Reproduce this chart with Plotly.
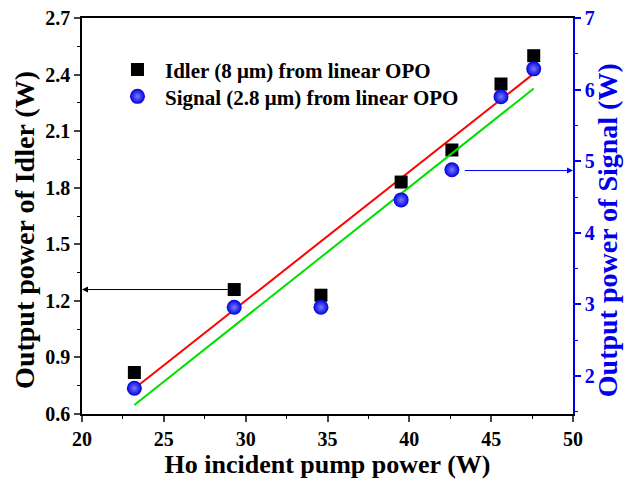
import numpy as np
import plotly.graph_objects as go

pump = [23.2, 29.3, 34.6, 39.5, 42.6, 45.6, 47.6]
idler = [0.82, 1.26, 1.23, 1.83, 2.00, 2.35, 2.50]
signal = [1.83, 2.96, 2.96, 4.46, 4.88, 5.90, 6.29]

FONT = "Liberation Serif"

ki, bi = np.polyfit(pump, idler, 1)
ks, bs = np.polyfit(pump, signal, 1)
xf = np.array([min(pump), max(pump)])

fig = go.Figure()
fig.add_trace(go.Scatter(x=xf, y=ki * xf + bi, mode="lines", line=dict(color="#ff0000", width=2),
                         showlegend=False, hoverinfo="skip"))
fig.add_trace(go.Scatter(x=xf, y=ks * xf + bs, mode="lines", line=dict(color="#00e000", width=2),
                         showlegend=False, hoverinfo="skip", yaxis="y2"))
fig.add_trace(go.Scatter(x=pump, y=idler, mode="markers", name="Idler (8 \u03bcm) from linear OPO",
                         legend="legend",
                         marker=dict(symbol="square", size=13, color="black")))
fig.add_trace(go.Scatter(x=pump, y=signal, mode="markers", name="Signal (2.8 \u03bcm) from linear OPO",
                         yaxis="y2", legend="legend2",
                         marker=dict(symbol="circle", size=15, color="#0000dd",
                                     gradient=dict(type="radial", color="#7a7aff"),
                                     line=dict(width=0))))

fig.add_annotation(x=20, y=1.26, ax=29.0, ay=1.26, xref="x", yref="y", axref="x", ayref="y",
                   text="", showarrow=True, arrowhead=2, arrowsize=1.2, arrowwidth=1, arrowcolor="black")
fig.add_annotation(x=50, y=4.87, ax=43.3, ay=4.87, xref="x", yref="y2", axref="x", ayref="y2",
                   text="", showarrow=True, arrowhead=2, arrowsize=1.2, arrowwidth=1, arrowcolor="#0000ee")

# y-axis titles as rotated annotations (placed slightly below plot centre, as in the reference)
fig.add_annotation(text="Output power of Idler (W)", xref="paper", yref="paper",
                   x=-0.116, y=0.465, xanchor="center", yanchor="middle", textangle=-90, showarrow=False,
                   font=dict(family=FONT, size=28, color="black", weight="bold"))
fig.add_annotation(text="Output power of Signal (W)", xref="paper", yref="paper",
                   x=1.072, y=0.465, xanchor="center", yanchor="middle", textangle=-90, showarrow=False,
                   font=dict(family=FONT, size=28, color="#0000ee", weight="bold"))

legfont = dict(family=FONT, size=21, color="black", weight="bold")
fig.update_layout(
    width=626, height=480,
    margin=dict(l=82, r=53, t=18, b=66, autoexpand=False),
    paper_bgcolor="white", plot_bgcolor="white",
    font=dict(family=FONT, size=20, color="black"),
    showlegend=True,
    legend=dict(x=0.057, y=0.921, xanchor="left", yanchor="top", bgcolor="rgba(0,0,0,0)",
                itemwidth=45, font=legfont),
    legend2=dict(x=0.057, y=0.853, xanchor="left", yanchor="top", bgcolor="rgba(0,0,0,0)",
                 itemwidth=45, font=legfont),
    xaxis=dict(range=[20, 50], tickvals=[20, 25, 30, 35, 40, 45, 50], ticks="outside", ticklen=6,
               tickwidth=1.5, showline=True, linecolor="black", linewidth=1.5, mirror=True,
               showgrid=False, zeroline=False, automargin=False,
               minor=dict(dtick=2.5, ticks="outside", ticklen=3, tickwidth=1.2, tickcolor="black"),
               tickfont=dict(family=FONT, size=20, color="black", weight="bold"),
               title=dict(text="Ho incident pump power (W)", standoff=4,
                          font=dict(family=FONT, size=26, color="black", weight="bold"))),
    yaxis=dict(range=[0.6, 2.7], tickvals=[0.6, 0.9, 1.2, 1.5, 1.8, 2.1, 2.4, 2.7],
               ticktext=["0.6", "0.9", "1.2", "1.5", "1.8", "2.1", "2.4", "2.7"],
               ticks="outside", ticklen=6, tickwidth=1.5, showline=True, linecolor="black",
               linewidth=1.5, showgrid=False, zeroline=False, automargin=False,
               minor=dict(dtick=0.15, ticks="outside", ticklen=3, tickwidth=1.2, tickcolor="black"),
               tickfont=dict(family=FONT, size=20, color="black", weight="bold")),
    yaxis2=dict(range=[1.47, 7], overlaying="y", side="right", tickvals=[2, 3, 4, 5, 6, 7],
                ticks="outside", ticklen=6, tickwidth=1.5, tickcolor="#0000ee", showline=True,
                linecolor="#0000ee", linewidth=1.5, showgrid=False, zeroline=False, automargin=False,
                minor=dict(dtick=0.5, ticks="outside", ticklen=3, tickwidth=1.2, tickcolor="#0000ee"),
                tickfont=dict(family=FONT, size=20, color="#0000ee", weight="bold")),
)

fig.write_html("out.html")
